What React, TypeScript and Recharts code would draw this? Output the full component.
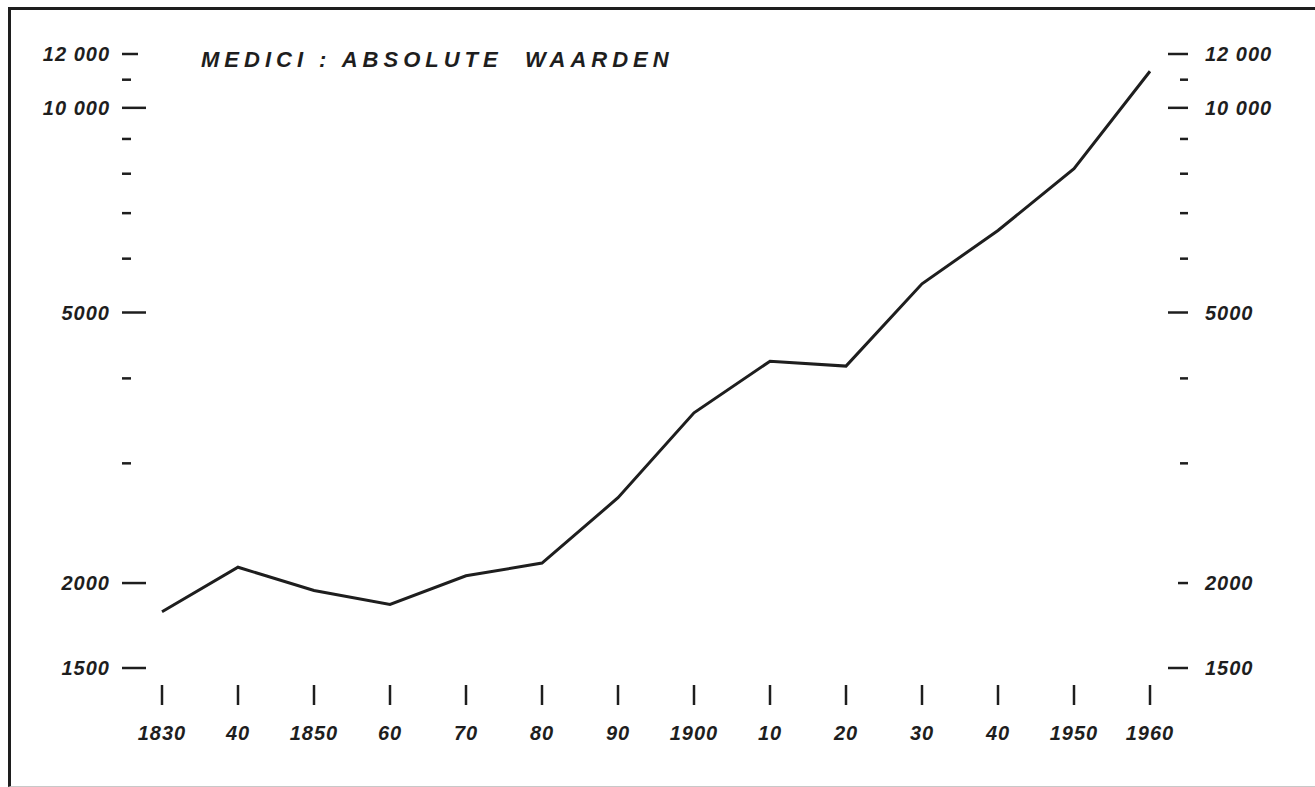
import { LineChart, Line, XAxis, YAxis } from "recharts"

const years = [1830, 1840, 1850, 1860, 1870, 1880, 1890, 1900, 1910, 1920, 1930, 1940, 1950, 1960]
const medici = [1815, 2110, 1950, 1860, 2050, 2140, 2670, 3560, 4240, 4170, 5510, 6600, 8140, 11320]

const yearLabels = ["1830", "40", "1850", "60", "70", "80", "90", "1900", "10", "20", "30", "40", "1950", "1960"]
const majorTicks = [1500, 2000, 5000, 10000, 12000]
const minorTicks = [3000, 4000, 6000, 7000, 8000, 9000, 11000]
const yTicks = [...majorTicks, ...minorTicks].sort((a, b) => a - b)

const title = "MEDICI : ABSOLUTE  WAARDEN"

const data = years.map((year, i) => ({ year, value: medici[i] }))

const INK = "#1e1e1e"
const FONT = "'Liberation Sans', Arial, sans-serif"

const fmt = (v: number) => (v >= 10000 ? `${Math.floor(v / 1000)} 000` : `${v}`)

function LeftTick({ x, y, payload }: any) {
  const v = payload.value as number
  const major = majorTicks.includes(v)
  const len = v === 12000 ? 16 : major ? 24 : 9
  return (
    <g>
      <line x1={x - 40} x2={x - 40 + len} y1={y} y2={y} stroke={INK} strokeWidth={2.5} />
      {major && (
        <text x={x - 52} y={y} dy={7} textAnchor="end" fontFamily={FONT} fontSize={20} fontStyle="italic" fontWeight={700} fill={INK} letterSpacing={1}>
          {fmt(v)}
        </text>
      )}
    </g>
  )
}

function RightTick({ x, y, payload }: any) {
  const v = payload.value as number
  const major = majorTicks.includes(v)
  const len = v === 2000 ? 10 : major ? 20 : 8
  return (
    <g>
      <line x1={x + 38 - len} x2={x + 38} y1={y} y2={y} stroke={INK} strokeWidth={2.5} />
      {major && (
        <text x={x + 55} y={y} dy={7} textAnchor="start" fontFamily={FONT} fontSize={20} fontStyle="italic" fontWeight={700} fill={INK} letterSpacing={1}>
          {fmt(v)}
        </text>
      )}
    </g>
  )
}

function YearTick({ x, y, payload, index }: any) {
  return (
    <g>
      <line x1={x} x2={x} y1={y + 17} y2={y + 37} stroke={INK} strokeWidth={2.5} />
      <text x={x} y={y + 72} textAnchor="middle" fontFamily={FONT} fontSize={20} fontStyle="italic" fontWeight={700} fill={INK} letterSpacing={1}>
        {yearLabels[index]}
      </text>
    </g>
  )
}

export default function App() {
  return (
    <div style={{ position: "absolute", left: 0, top: 0, width: 1315, height: 787, background: "#fff", overflow: "hidden" }}>
      <div
        style={{
          position: "absolute",
          left: 8,
          top: 7,
          width: 1320,
          height: 776,
          borderLeft: `3px solid ${INK}`,
          borderTop: `3px solid ${INK}`,
          borderBottom: "1px solid #c8c8c8",
        }}
      />
      <div
        style={{
          position: "absolute",
          left: 201,
          top: 47,
          fontFamily: FONT,
          fontSize: 22,
          fontStyle: "italic",
          fontWeight: 700,
          letterSpacing: 5,
          whiteSpace: "pre",
          color: INK,
        }}
      >
        {title}
      </div>
      <LineChart
        width={1315}
        height={787}
        data={data}
        margin={{ top: 54, right: 0, bottom: 0, left: 0 }}
        style={{ position: "absolute", left: 0, top: 0 }}
      >
        <XAxis
          dataKey="year"
          type="number"
          domain={[1830, 1960]}
          ticks={years}
          interval={0}
          height={119}
          axisLine={false}
          tickLine={false}
          tickSize={0}
          tickMargin={0}
          tick={<YearTick />}
        />
        <YAxis
          yAxisId="left"
          orientation="left"
          scale="log"
          domain={[1500, 12000]}
          ticks={yTicks}
          interval={0}
          width={162}
          axisLine={false}
          tickLine={false}
          tickSize={0}
          tickMargin={0}
          allowDataOverflow
          tick={<LeftTick />}
        />
        <YAxis
          yAxisId="right"
          orientation="right"
          scale="log"
          domain={[1500, 12000]}
          ticks={yTicks}
          interval={0}
          width={165}
          axisLine={false}
          tickLine={false}
          tickSize={0}
          tickMargin={0}
          allowDataOverflow
          tick={<RightTick />}
        />
        <Line
          yAxisId="left"
          dataKey="value"
          type="linear"
          stroke={INK}
          strokeWidth={3}
          dot={false}
          isAnimationActive={false}
        />
      </LineChart>
    </div>
  )
}
